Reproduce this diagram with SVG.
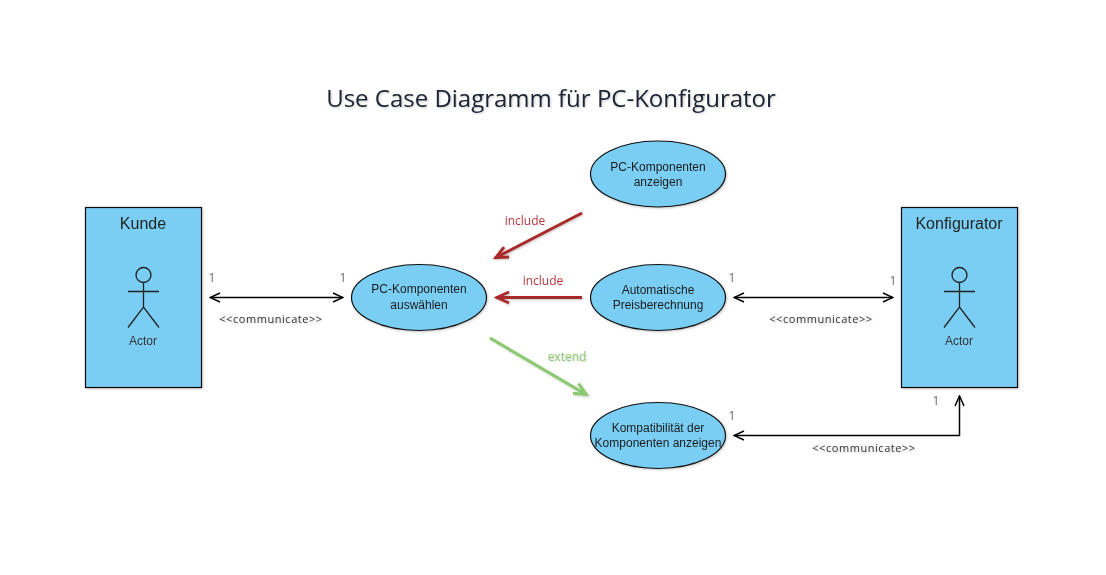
<svg xmlns="http://www.w3.org/2000/svg" width="1106" height="575" viewBox="0 0 1106 575">
<style>
text{text-anchor:middle;opacity:.99}
.s{font-family:"Liberation Sans",Arial,sans-serif;fill:#1a1a1a;font-size:12px}
.o{font-family:"Open Sans",sans-serif}
.h{font-size:16px;fill:#222}
.a{font-size:12px;fill:#333}
.n{font-size:12px;fill:#666;font-family:"Open Sans",sans-serif}
.c{font-size:11px;letter-spacing:.55px;fill:#333;font-family:"Open Sans",sans-serif;filter:url(#sh)}
.box,.el{fill:#7acef4;stroke:#111;stroke-width:1.2;filter:url(#sh)}
.fig{fill:none;stroke:#222;stroke-width:1.3}
.bk{fill:none;stroke:#000;stroke-width:1.5}
.red{fill:none;stroke:#a82a2a;stroke-width:3;filter:url(#sh)}
.grn{fill:none;stroke:#8cc870;stroke-width:3;filter:url(#sh)}
</style>
<defs>
<filter id="sh" filterUnits="userSpaceOnUse" x="0" y="0" width="1106" height="575"><feDropShadow dx="1" dy="1" stdDeviation="1" flood-color="#000" flood-opacity="0.22"/></filter>
<marker id="ah" viewBox="0 0 12 12" refX="11" refY="6" markerWidth="12" markerHeight="12" markerUnits="userSpaceOnUse" orient="auto-start-reverse"><path d="M1 1.500 L11 6 L1 10.500" fill="none" stroke="#000" stroke-width="1.500"/></marker>
<marker id="ar" viewBox="0 0 18 16" refX="16" refY="8" markerWidth="18" markerHeight="16" markerUnits="userSpaceOnUse" orient="auto"><path d="M3 2.500 L15 8 L3 13.500" fill="none" stroke="#a82a2a" stroke-width="3"/></marker>
<marker id="ag" viewBox="0 0 18 16" refX="16" refY="8" markerWidth="18" markerHeight="16" markerUnits="userSpaceOnUse" orient="auto"><path d="M3 2.500 L15 8 L3 13.500" fill="none" stroke="#8cc870" stroke-width="3"/></marker>
</defs>
<rect width="1106" height="575" fill="#fff"/>
<text id="title" class="o" x="551" y="107" font-size="24" fill="#1a2030" filter="url(#sh)">Use Case Diagramm für PC-Konfigurator</text>

<g id="connectors">
<line class="bk" x1="210" y1="297.500" x2="343" y2="297.500" marker-start="url(#ah)" marker-end="url(#ah)"/>
<line class="bk" x1="734" y1="297.500" x2="893" y2="297.500" marker-start="url(#ah)" marker-end="url(#ah)"/>
<path class="bk" d="M734 435.500 H959.500 V396" marker-start="url(#ah)" marker-end="url(#ah)"/>
<line class="red" x1="582" y1="213" x2="495" y2="258" marker-end="url(#ar)"/>
<line class="red" x1="582" y1="297.500" x2="496" y2="297.500" marker-end="url(#ar)"/>
<line class="grn" x1="490" y1="338" x2="587" y2="395" marker-end="url(#ag)"/>
<text class="n" x="212" y="282">1</text>
<text class="n" x="343" y="282">1</text>
<text class="n" x="732" y="282">1</text>
<text class="n" x="893" y="285">1</text>
<text class="n" x="732" y="420">1</text>
<text class="n" x="936" y="405">1</text>
<text class="c" x="271" y="323">&lt;&lt;communicate&gt;&gt;</text>
<text class="c" x="821" y="323">&lt;&lt;communicate&gt;&gt;</text>
<text class="c" x="864" y="452">&lt;&lt;communicate&gt;&gt;</text>
<text class="o" x="525" y="225" font-size="12" fill="#b8343c">include</text>
<text class="o" x="543" y="285" font-size="12" fill="#b8343c">include</text>
<text class="o" x="567" y="361" font-size="12" fill="#8cc870" filter="url(#sh)">extend</text>
</g>

<g id="kunde">
<rect class="box" x="85.500" y="207.500" width="116" height="180"/>
<text class="s h" x="143" y="229">Kunde</text>
<circle class="fig" cx="143.500" cy="275" r="7.500"/>
<path class="fig" d="M143.500 282.500 V307 M128 291.500 H159 M128 327.500 L143.500 307 L159 327.500"/>
<text class="s a" x="143" y="345">Actor</text>
</g>
<g id="konfigurator">
<rect class="box" x="901.500" y="207.500" width="116" height="180"/>
<text class="s h" x="959" y="229">Konfigurator</text>
<circle class="fig" cx="959.500" cy="275" r="7.500"/>
<path class="fig" d="M959.500 282.500 V307 M944 291.500 H975 M944 327.500 L959.500 307 L975 327.500"/>
<text class="s a" x="959" y="345">Actor</text>
</g>
<g id="auswaehlen">
<ellipse class="el" cx="419" cy="297.500" rx="67.500" ry="33"/>
<text class="s" x="419" y="293">PC-Komponenten</text>
<text class="s" x="419" y="309">auswählen</text>
</g>
<g id="anzeigen">
<ellipse class="el" cx="658" cy="174" rx="67.500" ry="33"/>
<text class="s" x="658" y="171">PC-Komponenten</text>
<text class="s" x="658" y="186">anzeigen</text>
</g>
<g id="preis">
<ellipse class="el" cx="658" cy="297.500" rx="67.500" ry="33"/>
<text class="s" x="658" y="294">Automatische</text>
<text class="s" x="658" y="309">Preisberechnung</text>
</g>
<g id="kompat">
<ellipse class="el" cx="658" cy="435.500" rx="67.500" ry="33"/>
<text class="s" x="658" y="432">Kompatibilität der</text>
<text class="s" x="658" y="447">Komponenten anzeigen</text>
</g>
</svg>
